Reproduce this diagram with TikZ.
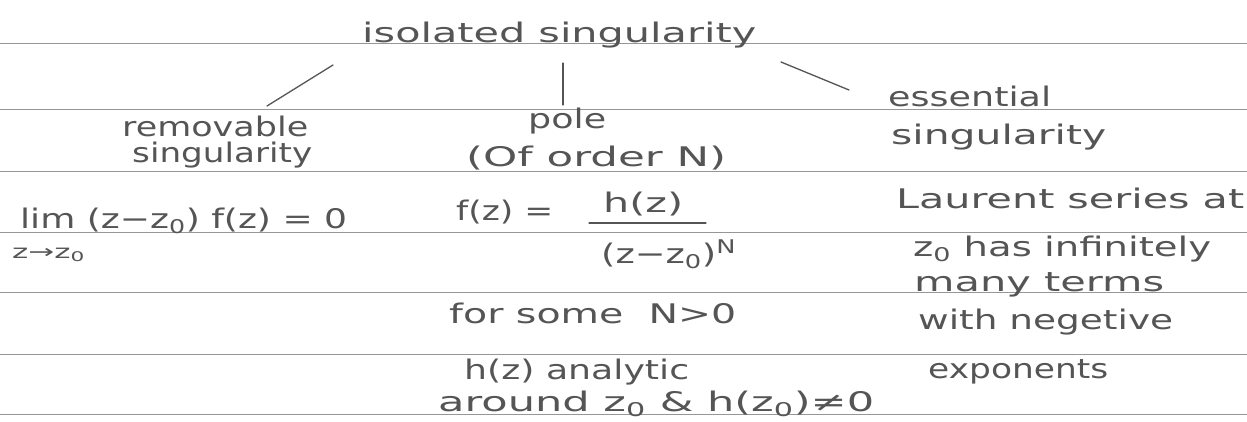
\documentclass[tikz,border=0pt]{standalone}
\usepackage{fontspec}
\usepackage{graphicx}
\setmainfont{DejaVu Sans}
\definecolor{pen}{RGB}{85,85,85}
\definecolor{rule}{RGB}{150,150,150}
\newcommand{\hw}[2]{\resizebox{#1}{\height}{#2}}
\tikzset{
  hand/.style={anchor=base west, inner sep=0pt, text=pen, font=\fontsize{27}{30}\selectfont},
  handsmall/.style={hand, font=\fontsize{19}{22}\selectfont},
  paperline/.style={draw=rule, line width=0.7pt},
  link/.style={draw=pen, line width=1.3pt, line cap=round}
}
\begin{document}
\begin{tikzpicture}[x=1pt,y=-1pt]
\useasboundingbox (0,0) rectangle (1247,422);
\fill[white] (0,0) rectangle (1247,422);
% ruled paper
\foreach \yy in {43,109,171,232,292,354,414}
  \draw[paperline] (0,\yy) -- (1247,\yy);

% top
\node[hand] (iso) at (362,43) {\hw{394pt}{isolated singularity}};

% removable
\node[hand] (rem1) at (122,137) {\hw{186pt}{removable}};
\node[hand] (rem2) at (132,163) {\hw{180pt}{singularity}};
\node[hand] (lim) at (20,228) {\hw{327pt}{lim (z−z\textsubscript{0}) f(z) = 0}};
\node[handsmall] (limsub) at (12,258) {\hw{73pt}{z→z\textsubscript{0}}};

% pole
\node[hand] (pole) at (528,129) {\hw{78pt}{pole}};
\node[hand] (order) at (466,167) {\hw{260pt}{(Of order N)}};
\node[hand] (fz) at (456,221) {\hw{97pt}{f(z) =}};
\node[hand] (num) at (603,213) {\hw{80pt}{h(z)}};
\node[hand] (den) at (601,263) {\hw{135pt}{(z−z\textsubscript{0})\textsuperscript{N}}};
\draw[link] (589,223) -- (706,223);
\node[hand] (some) at (449,323) {\hw{287pt}{for some\ \ N>0}};
\node[hand] (ana) at (464,379) {\hw{225pt}{h(z) analytic}};
\node[hand] (around) at (438,411) {\hw{436pt}{around z\textsubscript{0} \& h(z\textsubscript{0})≠0}};

% essential
\node[hand] (ess1) at (888,107) {\hw{163pt}{essential}};
\node[hand] (ess2) at (891,145) {\hw{215pt}{singularity}};
\node[hand] (lau1) at (896,208) {\hw{348pt}{Laurent series at}};
\node[hand] (lau2) at (913,256) {\hw{298pt}{z\textsubscript{0} has infinitely}};
\node[hand] (lau3) at (914,291) {\hw{250pt}{many terms}};
\node[hand] (lau4) at (918,329) {\hw{255pt}{with negetive}};
\node[hand] (lau5) at (928,378) {\hw{180pt}{exponents}};

% connectors
\coordinate (remtop) at (333,65);
\coordinate (rembot) at (267,106);
\coordinate (poletop) at (563,63);
\coordinate (polebot) at (563,105);
\coordinate (esstop) at (781,62);
\coordinate (essbot) at (849,90);
\draw[link] (remtop) -- (rembot);
\draw[link] (poletop) -- (polebot);
\draw[link] (esstop) -- (essbot);
\end{tikzpicture}
\end{document}
